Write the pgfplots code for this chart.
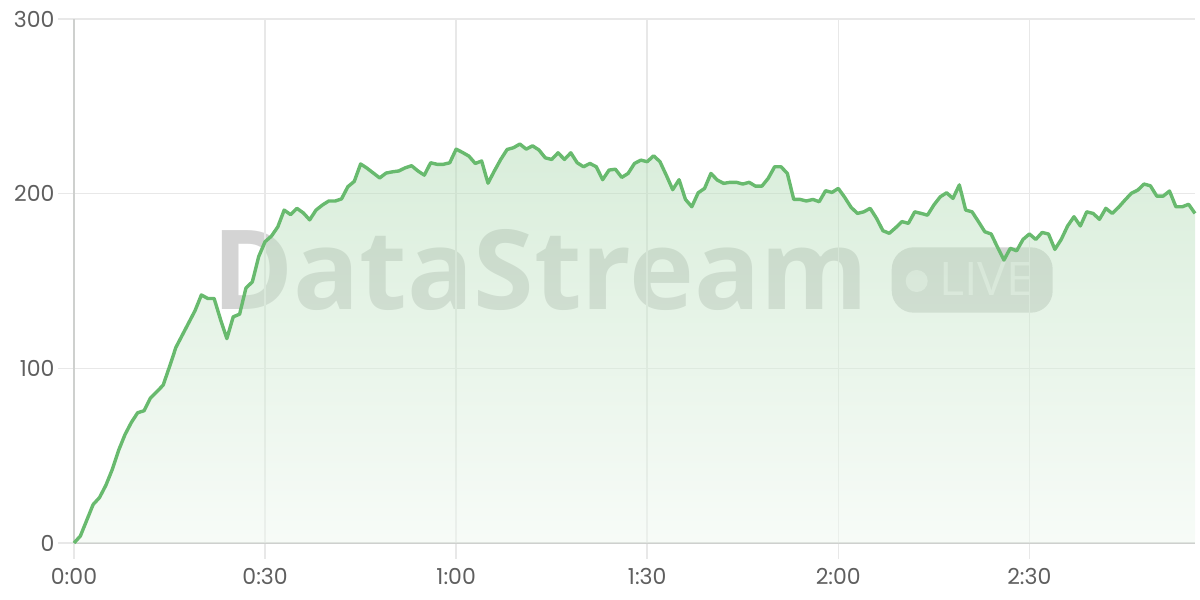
\documentclass[border=0pt]{standalone}
\usepackage{pgfplots}
\pgfplotsset{compat=1.18}
\usepackage{pgfplotstable}
\usepackage{fontspec}
\setmainfont{Poppins}
\newfontfamily\wmfont{Open Sans}
\newfontfamily\livefont{Open Sans}

\definecolor{linegreen}{RGB}{104,186,110}
\definecolor{gridgray}{RGB}{232,232,232}
\definecolor{axisgray}{RGB}{206,208,206}
\definecolor{labelgray}{RGB}{95,95,95}
\definecolor{wmgray}{RGB}{212,212,212}

% viewers per second, 0:00 .. 2:56
\pgfplotstableread{
t v
0 0
1 4
2 13
3 22
4 26
5 33
6 42
7 53
8 62
9 69
10 74.6
11 75.7
12 83
13 86.6
14 90.4
15 101
16 112
17 119
18 126
19 133
20 142
21 140
22 140
23 128
24 117
25 129.5
26 131
27 146
28 149.5
29 164
30 172.5
31 175.7
32 181
33 190.6
34 188
35 191.6
36 189
37 185
38 190.6
39 193.5
40 195.8
41 195.8
42 197
43 204
44 207
45 217
46 214.6
47 211.8
48 209
49 211.8
50 212.5
51 213
52 214.8
53 216
54 213
55 210.6
56 217.7
57 216.8
58 216.8
59 217.7
60 225.5
61 223.6
62 221.5
63 217.3
64 218.7
65 206
66 213
67 219.6
68 225.3
69 226.3
70 228.4
71 225.5
72 227.4
73 225
74 220.5
75 219.6
76 223.4
77 219.6
78 223.4
79 217.7
80 215.4
81 217.3
82 215.4
83 208
84 213.5
85 214
86 209.3
87 211.6
88 217.3
89 219.2
90 218.3
91 221.7
92 218.3
93 210.5
94 202.3
95 208
96 196.7
97 192.5
98 200.5
99 203
100 211.6
101 207.8
102 205.9
103 206.5
104 206.5
105 205.5
106 206.5
107 204.3
108 204.3
109 208.8
110 215.4
111 215.4
112 211.6
113 196.7
114 196.7
115 195.8
116 196.7
117 195.4
118 201.7
119 200.7
120 203
121 197.9
122 192.2
123 188.7
124 189.6
125 191.6
126 185.9
127 178.8
128 177.3
129 180.5
130 184
131 183
132 189.6
133 188.7
134 187.7
135 193.5
136 198.2
137 200.5
138 197.3
139 205
140 190.6
141 189.6
142 184
143 178.2
144 176.9
145 169.3
146 162
147 168.7
148 167.3
149 173.8
150 176.9
151 173.8
152 177.8
153 176.9
154 168.1
155 173.8
156 181.5
157 186.8
158 181.5
159 189.6
160 188.7
161 185.3
162 191.6
163 188.7
164 192.2
165 196.3
166 200.2
167 202
168 205.5
169 204.5
170 198.6
171 198.6
172 201.5
173 192.5
174 192.5
175 193.9
176 188.7
}\rate

\begin{document}
\begin{tikzpicture}
% watermark, sits behind grid and fill
\node[anchor=base west, inner sep=0pt, text=wmgray] at (138bp,233bp)
  {\resizebox{656bp}{80bp}{\wmfont\bfseries DataStream}};
\fill[wmgray, rounded corners=22bp] (817.7bp,230.3bp) rectangle (978.7bp,295.7bp);
\fill[white, opacity=0.55] (842.7bp,262bp) circle (11bp);
\node[anchor=base west, inner sep=0pt, text=white, text opacity=0.55] at (865bp,247bp)
  {\resizebox{94bp}{33bp}{\livefont LIVE}};

\begin{axis}[
  at={(0,0)}, anchor=south west,
  scale only axis, width=1121bp, height=524bp,
  xmin=0, xmax=176, ymin=0, ymax=300,
  axis x line*=bottom, axis y line*=left,
  axis line style={draw=axisgray, line width=1.5bp},
  xtick={0,30,...,150},
  xticklabels={0:00,0:30,1:00,1:30,2:00,2:30},
  ytick={0,100,200,300},
  grid=major,
  major grid style={draw=gridgray, line width=1.5bp},
  tick align=outside, major tick length=16bp,
  tick style={draw=gridgray, line width=1.5bp},
  tick label style={font=\fontsize{22bp}{26bp}\selectfont, text=labelgray},
  /pgf/number format/assume math mode=true,
  xticklabel style={yshift=-6bp},
  clip=false,
]
\addplot[draw=none, top color=linegreen!50!white, bottom color=linegreen!10!white,
  fill opacity=0.5] table[x=t, y=v] {\rate} \closedcycle;
\addplot[linegreen, line width=3.4bp, line join=round] table[x=t, y=v] {\rate};
\end{axis}
\pgfresetboundingbox
\useasboundingbox (-74bp,-57bp) rectangle (1126bp,543bp);
\end{tikzpicture}
\end{document}
